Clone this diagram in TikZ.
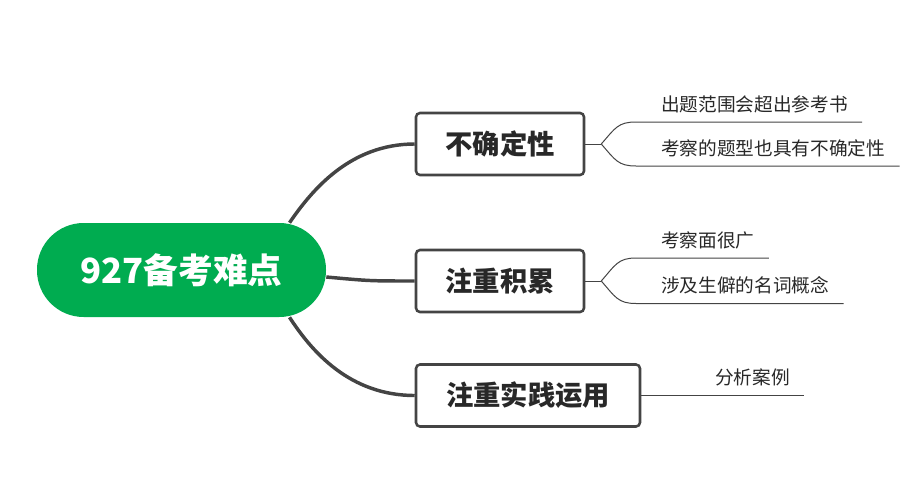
\documentclass[tikz,border=0pt]{standalone}
\usepackage{fontspec}
\newfontfamily\cjk{Noto Sans CJK SC}
\usetikzlibrary{calc}
\definecolor{rootgreen}{RGB}{0,172,80}
\definecolor{linegray}{RGB}{68,68,68}
\definecolor{textgray}{RGB}{40,40,40}

\begin{document}
\begin{tikzpicture}[x=0.75pt, y=-0.75pt,
  root/.style={fill=rootgreen, rounded corners=35pt, minimum width=216.75pt, minimum height=70.5pt, text=white, font=\cjk\bfseries\fontsize{26}{30}\selectfont},
  topic/.style={draw=linegray, line width=1.9pt, rounded corners=3pt, fill=white, minimum height=46.5pt, text=textgray, font=\cjk\bfseries\fontsize{20.5}{24}\selectfont},
  leaf/.style={anchor=base west, inner sep=0pt, text=textgray, font=\cjk\fontsize{14}{17}\selectfont},
  trunk/.style={draw=linegray, line width=2.6pt},
  twig/.style={draw=linegray, line width=0.75pt}]
  \useasboundingbox (0,0) rectangle (923,489);
  \node[root] (root) at (181.5,270) {927备考难点};
  \node[topic, minimum width=126pt] (b1) at (500,144) {不确定性};
  \node[topic, minimum width=126pt] (b2) at (500,281) {注重积累};
  \node[topic, minimum width=168pt] (b3) at (528,395.5) {注重实践运用};
  \draw[trunk] ($(root.north)+(108,0)$) .. controls (312,190) and (350,144) .. (b1.west);
  \draw[trunk] ($(root.east)+(0,7)$) .. controls (370,281) .. (b2.west);
  \draw[trunk] ($(root.south)+(108,0)$) .. controls (312,352) and (350,395.5) .. (b3.west);
  \node[leaf] (t11) at (661,111) {出题范围会超出参考书};
  \node[leaf] (t12) at (661,155) {考察的题型也具有不确定性};
  \node[leaf] (t21) at (661,247) {考察面很广};
  \node[leaf] (t22) at (661,292.5) {涉及生僻的名词概念};
  \node[leaf] (t3) at (715,384.5) {分析案例};
  \coordinate (f1) at ($(b1.east)+(16,0)$);
  \coordinate (f2) at ($(b2.east)+(16,0)$);
  \draw[twig] (b1.east) -- (f1);
  \draw[twig] (f1) .. controls +(14,-16) and +(-18,0) .. ($(t11.base west)+(-25,11)$) -- ($(t11.base east)+(14,11)$);
  \draw[twig] (f1) .. controls +(14,16) and +(-18,0) .. ($(t12.base west)+(-25,11)$) -- ($(t12.base east)+(14,11)$);
  \draw[twig] (b2.east) -- (f2);
  \draw[twig] (f2) .. controls +(14,-16) and +(-18,0) .. ($(t21.base west)+(-25,11)$) -- ($(t21.base east)+(14,11)$);
  \draw[twig] (f2) .. controls +(14,16) and +(-18,0) .. ($(t22.base west)+(-25,11)$) -- ($(t22.base east)+(14,11)$);
  \draw[twig] (b3.east) -- ($(t3.base east)+(14,11)$);
\end{tikzpicture}
\end{document}
